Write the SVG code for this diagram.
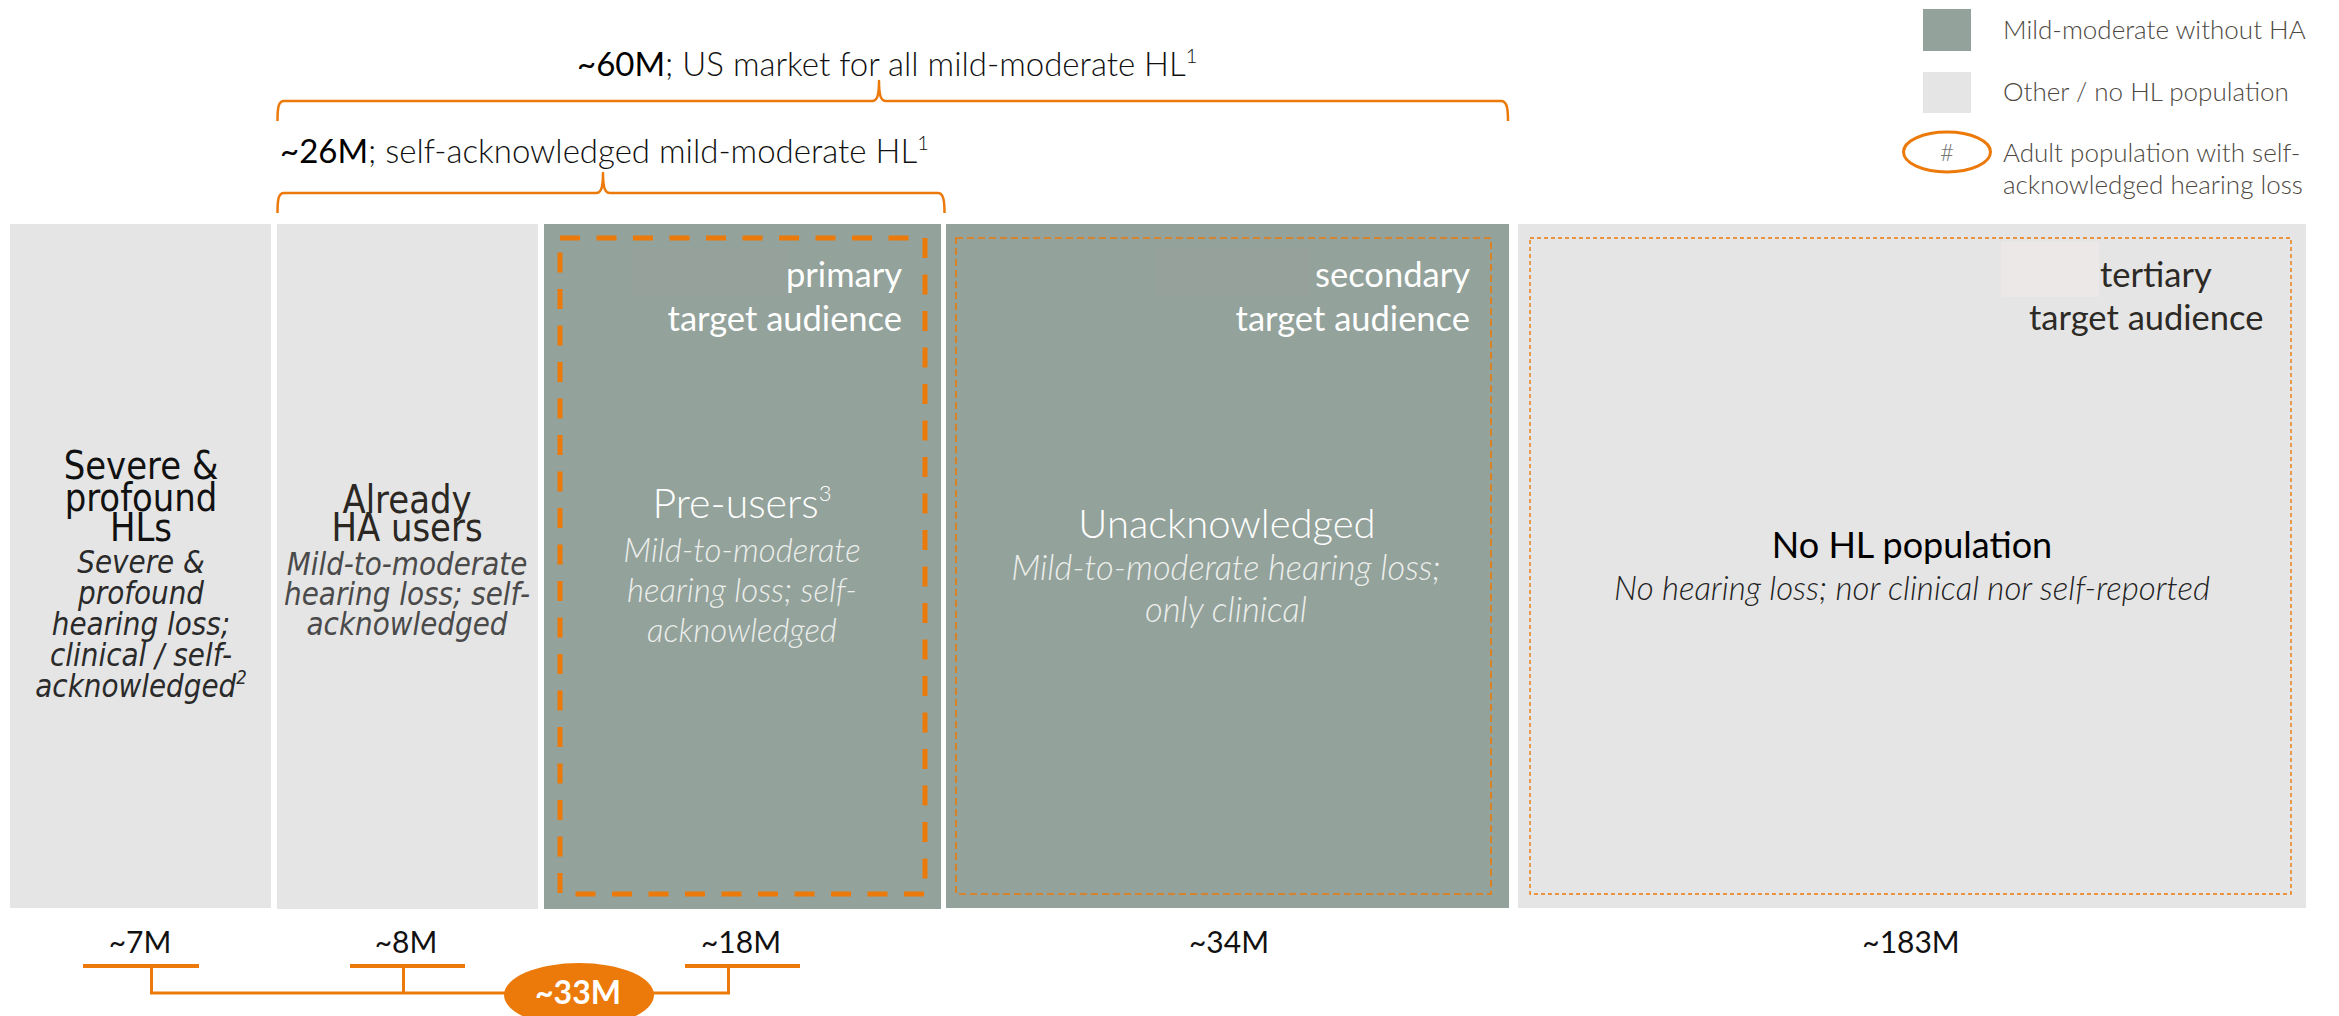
<svg xmlns="http://www.w3.org/2000/svg" width="2339" height="1016" viewBox="0 0 2339 1016">
  <style>
    .sans { font-family: Lato, "Source Sans Pro", "Noto Sans", sans-serif; }
    .geo { font-family: "DejaVu Sans", Montserrat, sans-serif; }
    .light { font-weight: 300; }
    .it { font-style: italic; }
    .mid { text-anchor: middle; }
    .end { text-anchor: end; }
    .sage { fill: #93a29a; }
    .pale { fill: #e5e5e5; }
    .brace { fill: none; stroke: #ec7a0a; stroke-width: 2.5; stroke-linejoin: round; }
    .tick { fill: none; stroke: #ec7a0a; }
    .hdr { font-size: 33px; fill: #111; }
    .aud { font-size: 34.5px; }
    .num { font-size: 30px; fill: #111; text-anchor: middle; }
    .legend { font-size: 26px; fill: #4d4842; }
  </style>

  <rect width="2339" height="1016" fill="#ffffff"/>

  <!-- Header labels with their braces -->
  <g id="header-60m">
    <text class="sans light hdr" x="577" y="76"><tspan font-weight="400" fill="#000">~60M</tspan>; US market for all mild-moderate HL<tspan font-size="20" dy="-13">1</tspan></text>
  </g>
  <g id="header-26m">
    <text class="sans light hdr" x="280" y="163"><tspan font-weight="400" fill="#000">~26M</tspan>; self-acknowledged mild-moderate HL<tspan font-size="20" dy="-13">1</tspan></text>
  </g>

  <!-- Legend -->
  <g id="legend">
    <rect class="sage" x="1923" y="9" width="48" height="42"/>
    <text class="sans light legend" x="2003" y="39">Mild-moderate without HA</text>
    <rect class="pale" x="1923" y="72" width="48" height="41"/>
    <text class="sans light legend" x="2003" y="101">Other / no HL population</text>
    <ellipse cx="1947" cy="152" rx="43.5" ry="20" fill="none" stroke="#ec7a0a" stroke-width="3"/>
    <text class="sans light mid" x="1947" y="161" font-size="24" fill="#777">#</text>
    <text class="sans light legend" x="2003" y="161.7">Adult population with self-</text>
    <text class="sans light legend" x="2003" y="194.3">acknowledged hearing loss</text>
  </g>

  <!-- Segment 1: severe & profound -->
  <g id="seg-severe">
    <rect class="pale" x="10" y="224" width="261" height="684"/>
    <g transform="translate(141,0) scale(0.87,1)" class="geo mid">
      <text x="0" y="478.6" font-size="39" fill="#111">Severe &amp;</text>
      <text x="0" y="510.7" font-size="39" fill="#111">profound</text>
      <text x="0" y="540.6" font-size="39" fill="#111">HLs</text>
      <g class="it" font-size="32" fill="#2a2a2a">
        <text x="0" y="572.7">Severe &amp;</text>
        <text x="0" y="604">profound</text>
        <text x="0" y="634.7">hearing loss;</text>
        <text x="0" y="666">clinical / self-</text>
        <text x="0" y="696.7">acknowledged<tspan font-size="19" dy="-13">2</tspan></text>
      </g>
    </g>
  </g>

  <!-- Segment 2: already hearing-aid users -->
  <g id="seg-already">
    <rect class="pale" x="277" y="224" width="261" height="685"/>
    <g transform="translate(407,0) scale(0.87,1)" class="geo mid">
      <text x="0" y="513" font-size="39" fill="#2b2722">Already</text>
      <text x="0" y="541.5" font-size="39" fill="#2b2722">HA users</text>
      <g class="it" font-size="32" fill="#4a4a4a">
        <text x="0" y="575">Mild-to-moderate</text>
        <text x="0" y="605">hearing loss; self-</text>
        <text x="0" y="634.7">acknowledged</text>
      </g>
    </g>
  </g>

  <!-- Segment 3: pre-users, primary audience -->
  <g id="seg-preusers">
    <rect class="sage" x="544" y="224" width="397" height="685"/>
    <rect x="632" y="249" width="155" height="48" fill="#97a19c"/>
    <rect x="560" y="238" width="365" height="656" fill="none" stroke="#ec7a0a" stroke-width="5" stroke-dasharray="20 16.5"/>
    <text class="sans aud end" x="902" y="287" fill="#fff">primary</text>
    <text class="sans aud end" x="902" y="331" fill="#fff">target audience</text>
    <text class="sans light mid" x="742" y="518" font-size="41" fill="#fff">Pre-users<tspan font-size="22" dy="-17">3</tspan></text>
    <g class="sans light it mid" font-size="33" fill="#eceeec">
      <text x="742" y="561.7">Mild-to-moderate</text>
      <text x="742" y="601.7">hearing loss; self-</text>
      <text x="742" y="641.7">acknowledged</text>
    </g>
  </g>

  <!-- Segment 4: unacknowledged, secondary audience -->
  <g id="seg-unack">
    <rect class="sage" x="946" y="224" width="563" height="684"/>
    <rect x="1157" y="248" width="153" height="49" fill="#97a19c"/>
    <rect x="956" y="238" width="535" height="656" fill="none" stroke="#ec7a0a" stroke-width="1.6" stroke-dasharray="7 4"/>
    <text class="sans aud end" x="1470" y="287" fill="#fff">secondary</text>
    <text class="sans aud end" x="1470" y="331" fill="#fff">target audience</text>
    <text class="sans light mid" x="1227" y="538" font-size="40" fill="#fff">Unacknowledged</text>
    <g class="sans light it mid" font-size="34.5" fill="#eceeec">
      <text x="1226" y="580">Mild-to-moderate hearing loss;</text>
      <text x="1226" y="621.7">only clinical</text>
    </g>
  </g>

  <!-- Segment 5: no hearing loss, tertiary audience -->
  <g id="seg-nohl">
    <rect class="pale" x="1518" y="224" width="788" height="684"/>
    <rect x="2001" y="242" width="98" height="55" fill="#ebe8e7"/>
    <rect x="1530" y="238" width="761" height="656" fill="none" stroke="#ec7a0a" stroke-width="1.4" stroke-dasharray="4 3"/>
    <text class="sans aud" x="2100" y="287" fill="#2d2a25">tertiary</text>
    <text class="sans aud" x="2029" y="330" fill="#2d2a25">target audience</text>
    <text class="sans mid" x="1912" y="558" font-size="36" fill="#000">No HL population</text>
    <text class="sans light it mid" x="1912" y="600" font-size="33" fill="#222">No hearing loss; nor clinical nor self-reported</text>
  </g>

  <!-- Segment sizes -->
  <g id="sizes" class="sans">
    <text class="num" x="140" y="953">~7M</text>
    <text class="num" x="406" y="953">~8M</text>
    <text class="num" x="741" y="953">~18M</text>
    <text class="num" x="1229" y="953">~34M</text>
    <text class="num" x="1911" y="953">~183M</text>
  </g>

  <!-- Braces and the summing connector -->
  <g id="connectors">
    <path class="brace" d="M277.5,121 C277.5,107 278.5,101 284,101 L872,101 C877,101 879,96 879,81 C879,96 881,101 886,101 L1501,101 C1506.5,101 1508,107 1508,121"/>
    <path class="brace" d="M277.5,213 C277.5,199 278.5,193 284,193 L596,193 C601,193 603,188 603,173 C603,188 605,193 610,193 L938,193 C943,193 944.5,199 944.5,213"/>
    <g class="tick">
      <line x1="83" y1="966" x2="199" y2="966" stroke-width="4"/>
      <line x1="350" y1="966" x2="465" y2="966" stroke-width="4"/>
      <line x1="685" y1="966" x2="800" y2="966" stroke-width="4"/>
      <polyline points="151.5,966 151.5,993 728.5,993 728.5,966" stroke-width="3"/>
      <line x1="403.5" y1="966" x2="403.5" y2="993" stroke-width="3"/>
    </g>
  </g>

  <g id="total-33m">
    <ellipse cx="579" cy="995" rx="75" ry="32" fill="#ec7a0a"/>
    <text class="sans mid" x="578" y="1004" font-size="32" font-weight="700" fill="#fff">~33M</text>
  </g>
</svg>
